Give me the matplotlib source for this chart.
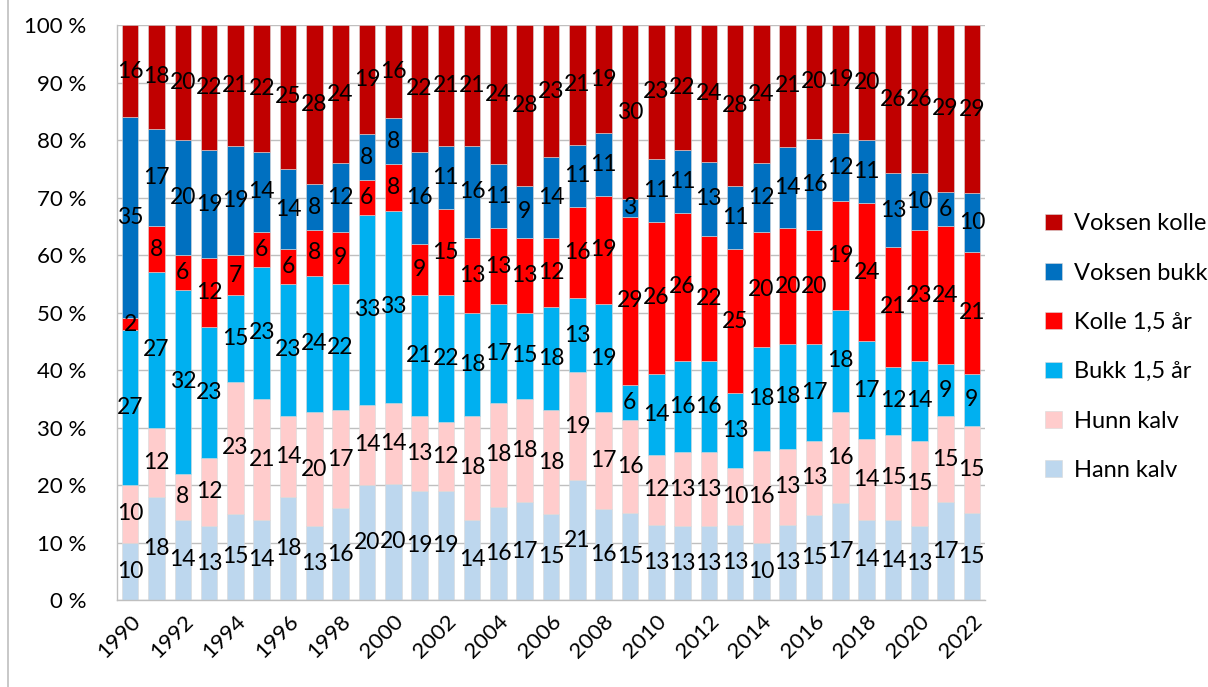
import numpy as np
import matplotlib
matplotlib.use("Agg")
import matplotlib.pyplot as plt
from matplotlib.lines import Line2D
from matplotlib.ticker import FuncFormatter

plt.rcParams["font.family"] = ["Lato", "DejaVu Sans"]

years = list(range(1990, 2023))

# bottom -> top of the stack
hann_kalv = [10, 18, 14, 13, 15, 14, 18, 13, 16, 20, 20, 19, 19, 14, 16, 17, 15,
             21, 16, 15, 13, 13, 13, 13, 10, 13, 15, 17, 14, 14, 13, 17, 15]
hunn_kalv = [10, 12, 8, 12, 23, 21, 14, 20, 17, 14, 14, 13, 12, 18, 18, 18, 18,
             19, 17, 16, 12, 13, 13, 10, 16, 13, 13, 16, 14, 15, 15, 15, 15]
bukk_15 = [27, 27, 32, 23, 15, 23, 23, 24, 22, 33, 33, 21, 22, 18, 17, 15, 18,
           13, 19, 6, 14, 16, 16, 13, 18, 18, 17, 18, 17, 12, 14, 9, 9]
kolle_15 = [2, 8, 6, 12, 7, 6, 6, 8, 9, 6, 8, 9, 15, 13, 13, 13, 12,
            16, 19, 29, 26, 26, 22, 25, 20, 20, 20, 19, 24, 21, 23, 24, 21]
voksen_bukk = [35, 17, 20, 19, 19, 14, 14, 8, 12, 8, 8, 16, 11, 16, 11, 9, 14,
               11, 11, 3, 11, 11, 13, 11, 12, 14, 16, 12, 11, 13, 10, 6, 10]
voksen_kolle = [16, 18, 20, 22, 21, 22, 25, 28, 24, 19, 16, 22, 21, 21, 24, 28, 23,
                21, 19, 30, 23, 22, 24, 28, 24, 21, 20, 19, 20, 26, 26, 29, 29]

series_names = ["Hann kalv", "Hunn kalv", "Bukk 1,5 år", "Kolle 1,5 år",
                "Voksen bukk", "Voksen kolle"]
series_colors = ["#BDD7EE", "#FFCCCC", "#00B0F0", "#FF0000", "#0070C0", "#C00000"]

data = np.array([hann_kalv, hunn_kalv, bukk_15, kolle_15, voksen_bukk, voksen_kolle],
                dtype=float)
pct = data / data.sum(axis=0) * 100

fig = plt.figure(figsize=(12.08, 6.87), dpi=100)
ax = fig.add_axes([0.0969, 0.1266, 0.7185, 0.837])

x = np.arange(len(years))
bottom = np.zeros(len(years))
for vals, raw, name, col in zip(pct, data, series_names, series_colors):
    ax.bar(x, vals, bottom=bottom, width=0.63, color=col, label=name,
           edgecolor="#d9d9d9", linewidth=0.4, zorder=2)
    for xi, b, v, r in zip(x, bottom, vals, raw):
        ax.text(xi, b + v / 2, f"{int(r)}", ha="center", va="center",
                fontsize=16.5, color="black", zorder=4)
    bottom += vals

ax.set_xlim(-0.5, len(years) - 0.5)
ax.set_ylim(0, 100)
ax.set_yticks(np.arange(0, 101, 10))
ax.yaxis.set_major_formatter(FuncFormatter(lambda v, p: f"{int(v)} %"))
ax.set_xticks(x[::2])
ax.set_xticklabels([str(y) for y in years[::2]], rotation=45, ha="right",
                   rotation_mode="anchor")
ax.tick_params(axis="both", length=0, labelsize=16)
ax.tick_params(axis="x", pad=8)
ax.tick_params(axis="y", pad=22)
ax.grid(axis="y", color="#BFBFBF", linewidth=1.0, zorder=0)
ax.set_axisbelow(True)
for s in ("top", "right"):
    ax.spines[s].set_visible(False)
for s in ("left", "bottom"):
    ax.spines[s].set_color("#BFBFBF")
    ax.spines[s].set_linewidth(1.0)

handles, labels = ax.get_legend_handles_labels()
ax.legend(handles[::-1], labels[::-1], loc="center left",
          bbox_to_anchor=(1.045, 0.44), frameon=False, fontsize=17,
          handlelength=0.7, handleheight=0.7, handletextpad=0.5,
          labelspacing=1.2)

fig.add_artist(Line2D([8 / 1208, 8 / 1208], [0, 1], color="#BFBFBF",
                      linewidth=1.2, transform=fig.transFigure))

fig.savefig("out.png", dpi=100)
